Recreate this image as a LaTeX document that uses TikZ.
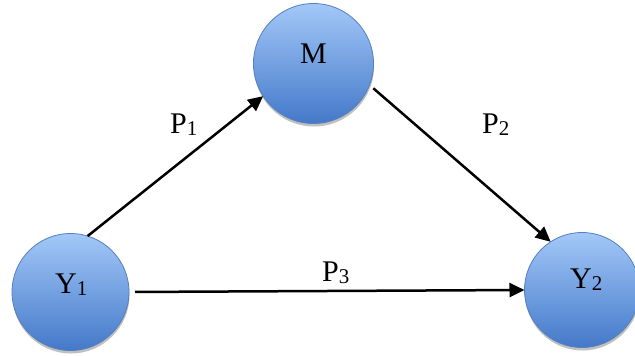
\documentclass[tikz,border=0pt]{standalone}
\usepackage{fontspec}
\setmainfont{Liberation Serif}
\usetikzlibrary{arrows.meta,shadows}
\definecolor{balltop}{RGB}{163,200,248}
\definecolor{ballbot}{RGB}{68,121,201}
\definecolor{ballline}{RGB}{84,128,190}
\newcommand\sbs[1]{\raisebox{-2pt}{\fontsize{21}{21}\selectfont #1}}
\tikzset{
  ball/.style={circle, draw=ballline, line width=0.8pt, top color=balltop, bottom color=ballbot, inner sep=0pt, outer sep=0pt,
    drop shadow={shadow xshift=0.5pt, shadow yshift=-3pt, opacity=0.55, fill=black!45}},
  txt/.style={font=\fontsize{30}{34}\selectfont, inner sep=0pt, anchor=base west, text=black},
  conn/.style={line width=2.5pt, -{Triangle[length=15pt,width=14pt]}}
}
\begin{document}
\begin{tikzpicture}[x=1pt,y=-1pt]
\useasboundingbox (0,0) rectangle (635,356);
\node[ball, minimum size=117pt] (Y1) at (70.5,292) {};
\node[ball, minimum size=120pt] (M) at (313.5,63.5) {};
\node[ball, minimum size=115pt] (Y2) at (582,290) {};
\node[txt] (Y1t) at (55,293) {Y\sbs{1}};
\node[txt] (Mt) at (300,63) {M};
\node[txt] (Y2t) at (570,288) {Y\sbs{2}};
\draw[conn] (Y1.73) -- (M.213);
\draw[conn, shorten <=5pt] (M.339) -- (Y2.123);
\draw[conn, shorten <=6pt] (Y1.0) -- (Y2.180);
\node[txt] (P1) at (170,133) {P\sbs{1}};
\node[txt] (P2) at (482,133) {P\sbs{2}};
\node[txt] (P3) at (322,281) {P\sbs{3}};
\end{tikzpicture}
\end{document}
